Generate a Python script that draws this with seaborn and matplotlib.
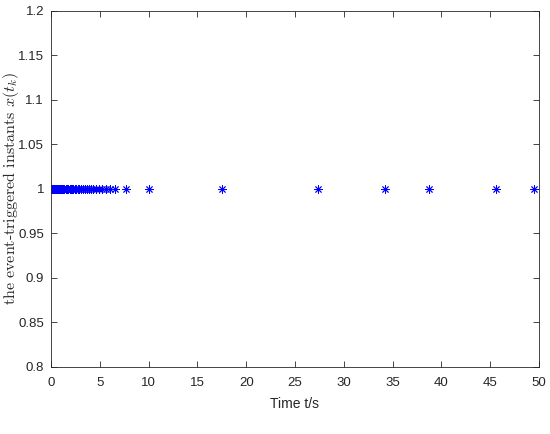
import matplotlib
matplotlib.use("Agg")
import matplotlib.pyplot as plt
import seaborn as sns
import pandas as pd

t_values = [0.0, 0.1, 0.2, 0.3, 0.4, 0.5, 0.6, 0.7, 0.8, 0.9, 1.0, 1.1, 1.2,
            1.35, 1.5, 1.6, 1.75, 1.9, 2.0, 2.15, 2.3, 2.45, 2.6, 2.75, 2.9,
            3.1, 3.3, 3.5, 3.7, 3.9, 4.1, 4.35, 4.6, 4.9, 5.2, 5.6, 6.0, 6.6,
            7.7, 10.0, 17.5, 27.4, 34.2, 38.7, 45.6, 49.5]
x_values = [1.0] * len(t_values)
x_ticks = [0, 5, 10, 15, 20, 25, 30, 35, 40, 45, 50]
y_ticks = [0.8, 0.85, 0.9, 0.95, 1.0, 1.05, 1.1, 1.15, 1.2]
y_tick_labels = ["0.8", "0.85", "0.9", "0.95", "1", "1.05", "1.1", "1.15", "1.2"]

df = pd.DataFrame({"t": t_values, "x": x_values})

sns.set_style("white")
plt.rcParams["font.family"] = ["Liberation Sans", "DejaVu Sans"]
plt.rcParams["mathtext.fontset"] = "cm"

fig = plt.figure(figsize=(5.5, 4.34), dpi=100)
ax = fig.add_axes([0.0927, 0.1544, 0.8873, 0.8203])

sns.scatterplot(data=df, x="t", y="x", ax=ax, marker=(8, 2, 0), color="#0000ff",
                s=30, linewidth=0.65, edgecolor="#0000ff", legend=False)

ax.set_xlim(0, 50)
ax.set_ylim(0.8, 1.2)
ax.set_xticks(x_ticks)
ax.set_xticklabels([str(v) for v in x_ticks])
ax.set_yticks(y_ticks)
ax.set_yticklabels(y_tick_labels)

for s in ax.spines.values():
    s.set_color("#262626")
    s.set_linewidth(0.6)
ax.tick_params(direction="in", length=4, width=0.6, colors="#262626",
               labelsize=9.5, top=True, right=True, bottom=True, left=True,
               labeltop=False, labelright=False)
ax.tick_params(axis="x", pad=7)
ax.tick_params(axis="y", pad=5)

ax.set_xlabel("Time t/s", fontsize=10, color="#262626")
ax.xaxis.set_label_coords(0.5, -0.085)
ax.set_ylabel(r"the event-triggered instants $x(t_k)$", fontsize=11.5,
              family="cmr10", color="#262626")
ax.yaxis.set_label_coords(-0.062, 0.5)

fig.savefig("out.png", dpi=100)
